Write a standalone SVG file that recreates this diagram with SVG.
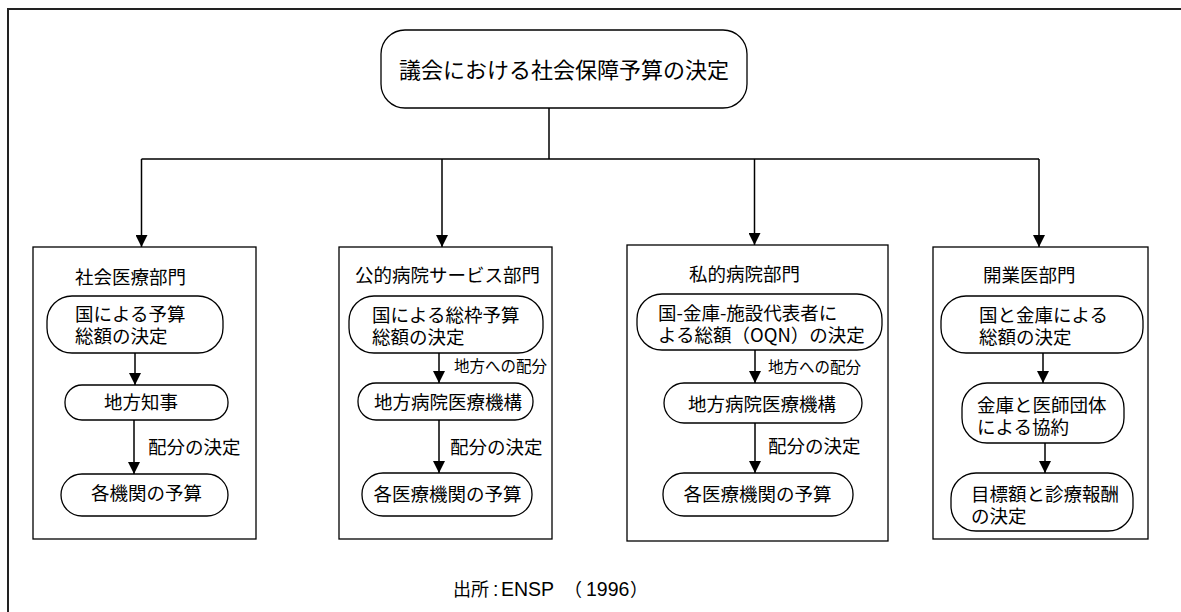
<svg xmlns="http://www.w3.org/2000/svg" width="1181" height="612" viewBox="0 0 1181 612">
<defs>
<marker id="ah" markerUnits="userSpaceOnUse" markerWidth="12" markerHeight="12" refX="12" refY="6" orient="auto">
<path d="M0,0 L12,6 L0,12 z" fill="#000"/>
</marker>
<style>
text{font-family:"Noto Sans CJK JP","Liberation Sans",sans-serif;font-size:18.5px;fill:#000}
.lbl{font-size:15.5px}
.top{font-size:22px}
.src{font-size:18px}
.lat{font-family:"Liberation Sans",sans-serif;font-size:19.5px}
.mid{text-anchor:middle}
.box{fill:none;stroke:#000;stroke-width:1.3}
.node{fill:#fff;stroke:#000;stroke-width:1.3}
.ln{fill:none;stroke:#000;stroke-width:1.5}
.ar{fill:none;stroke:#000;stroke-width:1.5;marker-end:url(#ah)}
</style>
</defs>
<rect width="1181" height="612" fill="#fff"/>
<path d="M8,620 L8,9 L1190,9" fill="none" stroke="#222" stroke-width="2"/>

<g id="top">
<rect class="node" x="381" y="30" width="366" height="78" rx="24"/>
<text class="top mid" x="564" y="78">議会における社会保障予算の決定</text>
</g>

<g id="sec1">
<rect class="box" x="33" y="247" width="223" height="292"/>
<text x="75" y="284">社会医療部門</text>
</g>
<g id="s1n1">
<rect class="node" x="47" y="296" width="176" height="57" rx="25"/>
<text x="75" y="321">国による予算</text>
<text x="75" y="343">総額の決定</text>
</g>
<g id="s1n2">
<rect class="node" x="65" y="385" width="163" height="35" rx="17"/>
<text class="mid" x="141" y="409">地方知事</text>
</g>
<g id="s1n3">
<rect class="node" x="61" y="474" width="167" height="42" rx="21"/>
<text class="mid" x="146.5" y="500">各機関の予算</text>
</g>

<g id="sec2">
<rect class="box" x="339" y="247" width="213" height="292"/>
<text x="355" y="282">公的病院サービス部門</text>
</g>
<g id="s2n1">
<rect class="node" x="349" y="296" width="194" height="57" rx="25"/>
<text x="372" y="322">国による総枠予算</text>
<text x="372" y="344">総額の決定</text>
</g>
<g id="s2n2">
<rect class="node" x="358" y="383" width="175" height="37" rx="18"/>
<text class="mid" x="448" y="409">地方病院医療機構</text>
</g>
<g id="s2n3">
<rect class="node" x="362" y="473" width="170" height="43" rx="21"/>
<text class="mid" x="447.5" y="501">各医療機関の予算</text>
</g>

<g id="sec3">
<rect class="box" x="627" y="245" width="261" height="296"/>
<text x="689" y="281">私的病院部門</text>
</g>
<g id="s3n1">
<rect class="node" x="637" y="294" width="245" height="56" rx="25"/>
<text x="658" y="320">国-金庫-施設代表者に</text>
<text x="658" y="342">よる総額（OQN）の決定</text>
</g>
<g id="s3n2">
<rect class="node" x="664" y="383" width="198" height="40" rx="20"/>
<text class="mid" x="762" y="411">地方病院医療機構</text>
</g>
<g id="s3n3">
<rect class="node" x="663" y="473" width="190" height="43" rx="21"/>
<text class="mid" x="757.5" y="501">各医療機関の予算</text>
</g>

<g id="sec4">
<rect class="box" x="933" y="247" width="215" height="292"/>
<text x="983" y="282">開業医部門</text>
</g>
<g id="s4n1">
<rect class="node" x="941" y="296" width="202" height="57" rx="25"/>
<text x="979" y="322">国と金庫による</text>
<text x="979" y="344">総額の決定</text>
</g>
<g id="s4n2">
<rect class="node" x="962" y="383" width="162" height="60" rx="25"/>
<text x="977" y="412">金庫と医師団体</text>
<text x="977" y="434">による協約</text>
</g>
<g id="s4n3">
<rect class="node" x="951" y="473" width="182" height="58" rx="25"/>
<text x="971" y="501">目標額と診療報酬</text>
<text x="971" y="523">の決定</text>
</g>

<g id="source">
<text class="src" y="596"><tspan x="453">出所</tspan><tspan class="lat" x="493">:</tspan><tspan class="lat" x="501">ENSP</tspan><tspan x="564">（</tspan><tspan class="lat" x="586">1996</tspan><tspan x="630">）</tspan></text>
</g>

<g id="connectors">
<path class="ln" d="M549,108 L549,159 M141.5,159 L1039,159"/>
<path class="ar" d="M141.5,159 L141.5,247"/>
<path class="ar" d="M442,159 L442,247"/>
<path class="ar" d="M754.5,159 L754.5,245"/>
<path class="ar" d="M1039,159 L1039,247"/>
<path class="ar" d="M135,353 L135,385"/>
<path class="ar" d="M134,420 L134,474"/>
<path class="ar" d="M439,353 L439,383"/>
<path class="ar" d="M439,420 L439,473"/>
<path class="ar" d="M755,350 L755,383"/>
<path class="ar" d="M755,423 L755,473"/>
<path class="ar" d="M1043,353 L1043,383"/>
<path class="ar" d="M1045,443 L1045,473"/>
<text x="148" y="454">配分の決定</text>
<text class="lbl" x="454" y="372">地方への配分</text>
<text x="450" y="454">配分の決定</text>
<text class="lbl" x="768" y="373">地方への配分</text>
<text x="768" y="453">配分の決定</text>
</g>
</svg>
